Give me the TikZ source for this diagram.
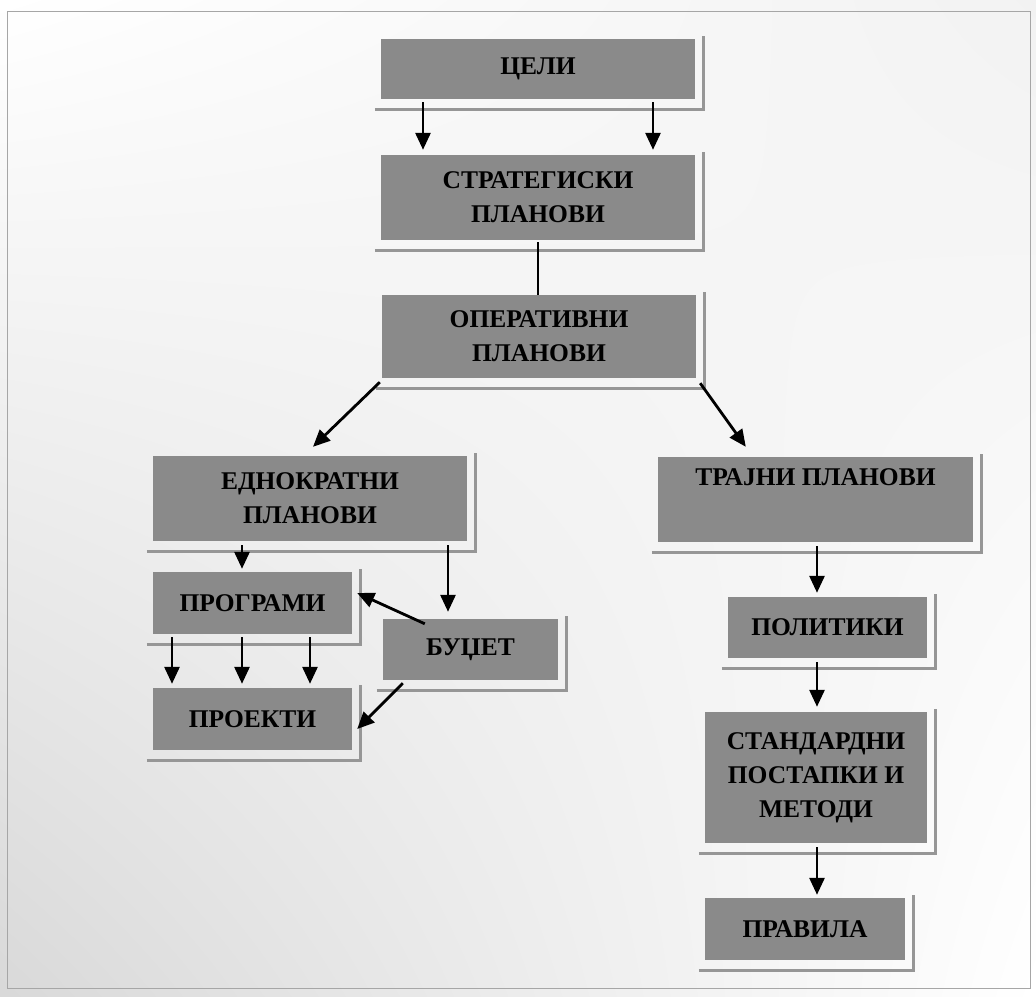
\documentclass[tikz,border=0pt]{standalone}
\usepackage{fontspec}
\setmainfont{Liberation Serif}
\usetikzlibrary{arrows.meta,calc,shadings}
\definecolor{boxgray}{RGB}{138,138,138}
\definecolor{framegray}{RGB}{150,150,150}
\tikzset{
  box/.style={draw=none,fill=boxgray,inner sep=0pt,align=center,
    font=\fontsize{25.5}{34}\selectfont\bfseries,text=black},
  arr/.style={line width=2.8pt,-{Triangle[width=15pt,length=17pt]}},
  plain/.style={line width=1.8pt},
  frame/.style={draw=framegray,line width=3pt}
}
\begin{document}
\begin{tikzpicture}[x=1pt,y=-1pt]
\useasboundingbox (0,0) rectangle (1036,996);
\shade[upper left=white,lower left=black!15,upper right=black!5,lower right=white] (0,0) rectangle (1036,996);
\draw[black!35,line width=1pt] (7,11) rectangle (1030,988);

\node[box,minimum width=314pt,minimum height=60pt] (celi) at (538,69) {ЦЕЛИ};
\node[box,minimum width=314pt,minimum height=85pt] (strat) at (538,197.5) {СТРАТЕГИСКИ\\ПЛАНОВИ};
\node[box,minimum width=314pt,minimum height=83pt] (oper) at (539,336.5) {ОПЕРАТИВНИ\\ПЛАНОВИ};
\node[box,minimum width=314pt,minimum height=85pt] (ednok) at (310,498.5) {ЕДНОКРАТНИ\\ПЛАНОВИ};
\node[box,minimum width=315pt,minimum height=85pt] (trajni) at (815.5,499.5) {ТРАЈНИ ПЛАНОВИ\\\strut};
\node[box,minimum width=199pt,minimum height=62pt] (programi) at (252.5,603) {ПРОГРАМИ};
\node[box,minimum width=175pt,minimum height=61pt] (budzet) at (470.5,649.5) {БУЏЕТ};
\node[box,minimum width=199pt,minimum height=62pt] (proekti) at (252.5,719) {ПРОЕКТИ};
\node[box,minimum width=199pt,minimum height=61pt] (politiki) at (827.5,627.5) {ПОЛИТИКИ};
\node[box,minimum width=222pt,minimum height=131pt] (standard) at (816,777.5) {СТАНДАРДНИ\\ПОСТАПКИ И\\МЕТОДИ};
\node[box,minimum width=200pt,minimum height=62pt] (pravila) at (805,929) {ПРАВИЛА};

\foreach \n in {celi,strat,oper,ednok,trajni,programi,budzet,proekti,politiki,standard,pravila}{
  \draw[frame] ($(\n.south west)+(-6,10)$) -- ($(\n.south east)+(8,10)$) -- ($(\n.north east)+(8,-3)$);
}

\draw[arr,shorten <=3pt,shorten >=5pt] ([xshift=-115pt]celi.south) -- ([xshift=-115pt]strat.north);
\draw[arr,shorten <=3pt,shorten >=5pt] ([xshift=115pt]celi.south) -- ([xshift=115pt]strat.north);
\draw[plain,shorten <=2pt] (strat.south) -- (strat.south |- oper.north);
\draw[arr] ([xshift=-2pt,yshift=-4pt]oper.south west) -- ([xshift=3pt,yshift=9pt]ednok.north);
\draw[arr] ([xshift=4pt,yshift=-5pt]oper.south east) -- ([xshift=88pt,yshift=10pt]trajni.north west);
\draw[arr,shorten <=4pt,shorten >=3pt] ([xshift=-68pt]ednok.south) -- ([xshift=-68pt]ednok.south |- programi.north);
\draw[arr,shorten <=4pt,shorten >=7pt] ([xshift=138pt]ednok.south) -- ([xshift=138pt]ednok.south |- budzet.north);
\draw[arr] ([xshift=42pt,yshift=-5pt]budzet.north west) -- ([xshift=5pt,yshift=10pt]programi.east);
\foreach \dx in {-80.5,-10.5,57.5}{
  \draw[arr,shorten <=3pt,shorten >=4pt] ([xshift=\dx pt]programi.south) -- ([xshift=\dx pt]proekti.north);
}
\draw[arr] ([xshift=20pt,yshift=-3pt]budzet.south west) -- ([xshift=5pt,yshift=-10pt]proekti.east);
\draw[arr,shorten <=4pt,shorten >=4pt] ([xshift=1.5pt]trajni.south) -- ([xshift=1.5pt]trajni.south |- politiki.north);
\draw[arr,shorten <=4pt,shorten >=5pt] ([xshift=-10.5pt]politiki.south) -- ([xshift=-10.5pt]politiki.south |- standard.north);
\draw[arr,shorten <=4pt,shorten >=3pt] ([xshift=1pt]standard.south) -- ([xshift=1pt]standard.south |- pravila.north);
\end{tikzpicture}
\end{document}
